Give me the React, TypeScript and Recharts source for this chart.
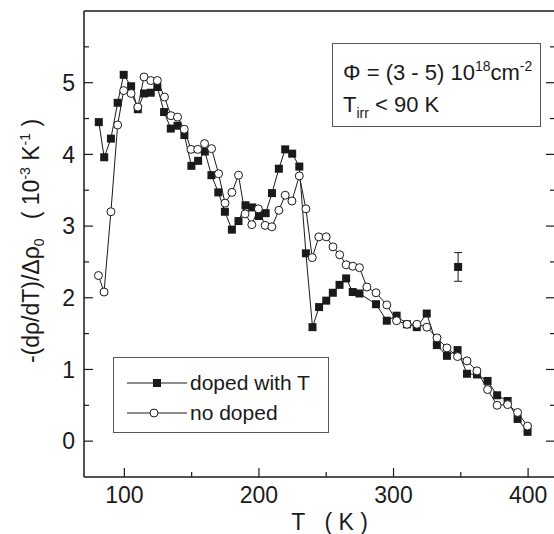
import React from 'react';
import { ScatterChart, Scatter, XAxis, YAxis, ErrorBar, Legend, Label } from 'recharts';

// temperatures (K) and -(dρ/dT)/Δρ0 values (10^-3 K^-1)
const dopedT = [
  81, 85, 90, 95, 99.5, 105, 110, 114.6, 119.6, 124.5, 129.5, 134.5, 139.5, 144.6, 149.8, 154.8,
  159.8, 164.7, 169.8, 174.7, 179.9, 184.8, 190, 195, 200, 205, 209.7, 214.8, 219.5, 224.7, 230,
  234.9, 239.8, 244.7, 250, 254.9, 259.9, 264.8, 269.7, 274.7, 287, 295, 302.3, 310, 317.3, 324.7,
  332.2, 339.7, 347.6, 354.6, 362, 369.9, 377, 384.8, 392.2, 399.6,
];
const dopedValues = [
  4.45, 3.96, 4.22, 4.72, 5.11, 4.95, 4.63, 4.85, 4.86, 4.94, 4.59, 4.36, 4.4, 4.27, 3.84, 3.91,
  4.04, 3.71, 3.47, 3.2, 2.95, 3.07, 3.29, 3.26, 3.14, 3.18, 3.46, 3.8, 4.07, 4.01, 3.83,
  2.62, 1.59, 1.87, 1.96, 2.07, 2.18, 2.27, 2.08, 2.06, 1.91, 1.68, 1.75, 1.63, 1.59, 1.78,
  1.34, 1.19, 1.27, 0.94, 0.93, 0.84, 0.64, 0.56, 0.31, 0.13,
];

const noDopedT = [
  80.7, 84.9, 90, 95, 99.5, 105, 110, 114.6, 119.6, 124.5, 129.8, 134.6, 139.5, 144.5, 149.5, 154.5,
  159.6, 164.8, 170, 174.8, 179.9, 184.8, 189.7, 194.7, 199.6, 204.6, 209.6, 214.8, 219.5, 224.5, 230,
  234.9, 239.6, 244.5, 250, 255, 260, 264.8, 269.8, 274.7, 280.2, 287, 295, 302.3, 310, 317.4, 324.8,
  332.3, 339.7, 347.6, 354.6, 362, 369.9, 377, 384.8, 392.2, 399.6,
];
const noDopedValues = [
  2.31, 2.08, 3.2, 4.41, 4.89, 4.85, 4.66, 5.08, 5.03, 5.03, 4.8, 4.54, 4.52, 4.35, 4.07, 4.07,
  4.15, 4.08, 3.73, 3.32, 3.47, 3.71, 3.17, 3.02, 3.24, 3.01, 2.99, 3.22, 3.43, 3.35, 3.7,
  3.24, 2.56, 2.85, 2.85, 2.71, 2.6, 2.46, 2.44, 2.42, 2.15, 2.07, 1.9, 1.68, 1.63, 1.63, 1.59,
  1.44, 1.3, 1.18, 1.12, 0.98, 0.72, 0.5, 0.51, 0.4, 0.21,
];

// single point with its error bar
const errorT = [348];
const errorValues = [2.43];
const errorSizes = [0.2];

const xTicks = [100, 150, 200, 250, 300, 350, 400];
const xLabelTicks = [100, 200, 300, 400];
const yTicks = [0, 0.5, 1, 1.5, 2, 2.5, 3, 3.5, 4, 4.5, 5, 5.5];
const yLabelTicks = [0, 1, 2, 3, 4, 5];
const seriesNames = ['doped with T', 'no doped'];

const doped = dopedT.map((T, i) => ({ T, v: dopedValues[i] }));
const noDoped = noDopedT.map((T, i) => ({ T, v: noDopedValues[i] }));
const errorPoint = errorT.map((T, i) => ({ T, v: errorValues[i], err: errorSizes[i] }));

const INK = '#1a1a1a';
const FONT = '"Liberation Sans", Arial, Helvetica, sans-serif';

const SquareDot = (props: any) => (
  <rect x={props.cx - 4} y={props.cy - 4} width={8} height={8} fill={INK} />
);
const CircleDot = (props: any) => (
  <circle cx={props.cx} cy={props.cy} r={4} fill="#fff" stroke={INK} strokeWidth={1} />
);

// ticks point into the plot; labels only on major ticks
const BottomTick = ({ x, y, payload }: any) => {
  const major = xLabelTicks.includes(payload.value);
  return (
    <g>
      <line x1={x} y1={y} x2={x} y2={y - (major ? 9 : 5)} stroke={INK} strokeWidth={1.2} />
      {major && (
        <text x={x} y={y + 26} textAnchor="middle" fontSize={23} fill={INK} fontFamily={FONT}>
          {payload.value}
        </text>
      )}
    </g>
  );
};
const TopTick = ({ x, y, payload }: any) => {
  const major = xLabelTicks.includes(payload.value);
  return <line x1={x} y1={y} x2={x} y2={y + (major ? 9 : 4)} stroke={INK} strokeWidth={1.2} />;
};
const LeftTick = ({ x, y, payload }: any) => {
  const major = yLabelTicks.includes(payload.value);
  return (
    <g>
      <line x1={x} y1={y} x2={x + (major ? 9 : 5)} y2={y} stroke={INK} strokeWidth={1.2} />
      {major && (
        <text x={x - 9} y={y} dy="0.36em" textAnchor="end" fontSize={23} fill={INK} fontFamily={FONT}>
          {payload.value}
        </text>
      )}
    </g>
  );
};
const RightTick = ({ x, y, payload }: any) => {
  const major = yLabelTicks.includes(payload.value);
  return <line x1={x} y1={y} x2={x - (major ? 9 : 5)} y2={y} stroke={INK} strokeWidth={1.2} />;
};

const YTitle = ({ viewBox }: any) => {
  const cx = viewBox.x + 31;
  const cy = viewBox.y + viewBox.height / 2 - 3;
  return (
    <text
      x={cx}
      y={cy}
      transform={`rotate(-90 ${cx} ${cy})`}
      textAnchor="middle"
      dy="0.36em"
      fontSize={23}
      fill={INK}
      fontFamily={FONT}
    >
      -(dρ/dT)/Δρ
      <tspan dy={5} fontSize={14}>0</tspan>
      <tspan dy={-5}>{'\u00a0\u00a0\u00a0( 10'}</tspan>
      <tspan dy={-9} fontSize={14}>-3</tspan>
      <tspan dy={9}>{' K'}</tspan>
      <tspan dy={-9} fontSize={14}>-1</tspan>
      <tspan dy={9}>{'\u00a0)'}</tspan>
    </text>
  );
};

const XTitle = ({ viewBox }: any) => (
  <text
    x={viewBox.x + viewBox.width / 2 + 10}
    y={viewBox.y + 53}
    textAnchor="middle"
    fontSize={23}
    fill={INK}
    fontFamily={FONT}
  >
    {'T\u00a0\u00a0\u00a0( K )'}
  </text>
);

const LegendBox = () => (
  <div
    style={{
      width: 216,
      height: 76,
      boxSizing: 'border-box',
      border: '1px solid #555',
      background: '#fff',
      paddingTop: 10,
      fontFamily: FONT,
      fontSize: 21,
      color: INK,
    }}
  >
    {seriesNames.map((name, i) => (
      <div key={name} style={{ display: 'flex', alignItems: 'center', height: 30, paddingLeft: 13 }}>
        <svg width={62} height={20} style={{ display: 'block' }}>
          <line x1={0} y1={10} x2={60} y2={10} stroke={INK} strokeWidth={1} />
          {i === 0 ? (
            <rect x={26} y={6} width={8} height={8} fill={INK} />
          ) : (
            <circle cx={27} cy={10} r={4} fill="#fff" stroke={INK} strokeWidth={1} />
          )}
        </svg>
        <span style={{ marginLeft: 1, lineHeight: '30px' }}>{name}</span>
      </div>
    ))}
  </div>
);

const Annotation = () => (
  <svg width={554} height={534} style={{ position: 'absolute', left: 0, top: 0, pointerEvents: 'none' }}>
    <rect x={332.5} y={43.5} width={208} height={83} fill="#fff" stroke="#555" strokeWidth={1} />
    <text x={343} y={80} fontSize={22} fill={INK} fontFamily={FONT}>
      Φ = (3 - 5) 10
      <tspan dy={-9} fontSize={14}>18</tspan>
      <tspan dy={9}>cm</tspan>
      <tspan dy={-9} fontSize={14}>-2</tspan>
    </text>
    <text x={343} y={112} fontSize={22} fill={INK} fontFamily={FONT}>
      T<tspan dy={6} fontSize={14}>irr</tspan>
      <tspan dy={-6}>{' < 90 K'}</tspan>
    </text>
  </svg>
);

const App: React.FC = () => {
  const axisLine = { stroke: INK, strokeWidth: 1.5 };
  return (
    <div
      style={{
        position: 'absolute',
        left: 0,
        top: 0,
        width: 554,
        height: 534,
        overflow: 'hidden',
        background: '#fff',
        fontFamily: FONT,
      }}
    >
      <ScatterChart width={560} height={534} margin={{ top: 10, right: 4, bottom: 0, left: 0 }}>
        <XAxis
          type="number"
          dataKey="T"
          domain={[70, 420]}
          allowDataOverflow
          ticks={xTicks}
          tickSize={0}
          tickMargin={0}
          tick={<BottomTick />}
          axisLine={axisLine}
          height={57}
        >
          <Label content={<XTitle />} />
        </XAxis>
        <XAxis
          xAxisId="top"
          orientation="top"
          type="number"
          domain={[70, 420]}
          allowDataOverflow
          ticks={xTicks}
          tickSize={0}
          tickMargin={0}
          tick={<TopTick />}
          axisLine={axisLine}
          height={1}
        />
        <YAxis
          type="number"
          dataKey="v"
          domain={[-0.5, 6]}
          allowDataOverflow
          ticks={yTicks}
          tickSize={0}
          tickMargin={0}
          tick={<LeftTick />}
          axisLine={axisLine}
          width={84}
        >
          <Label content={<YTitle />} />
        </YAxis>
        <YAxis
          yAxisId="right"
          orientation="right"
          type="number"
          domain={[-0.5, 6]}
          allowDataOverflow
          ticks={yTicks}
          tickSize={0}
          tickMargin={0}
          tick={<RightTick />}
          axisLine={false}
          width={1}
        />
        <Scatter
          name={seriesNames[0]}
          data={doped}
          line={{ stroke: INK, strokeWidth: 1 }}
          shape={<SquareDot />}
          isAnimationActive={false}
        />
        <Scatter
          name={seriesNames[1]}
          data={noDoped}
          line={{ stroke: INK, strokeWidth: 1 }}
          shape={<CircleDot />}
          isAnimationActive={false}
        />
        <Scatter name="error" data={errorPoint} shape={<SquareDot />} legendType="none" isAnimationActive={false}>
          <ErrorBar dataKey="err" direction="y" width={4} stroke={INK} strokeWidth={1} isAnimationActive={false} />
        </Scatter>
        <Legend
          layout="vertical"
          align="center"
          verticalAlign="middle"
          content={<LegendBox />}
          wrapperStyle={{ left: 113, top: 357, width: 216, height: 76 }}
        />
      </ScatterChart>
      <Annotation />
    </div>
  );
};

export default App;
